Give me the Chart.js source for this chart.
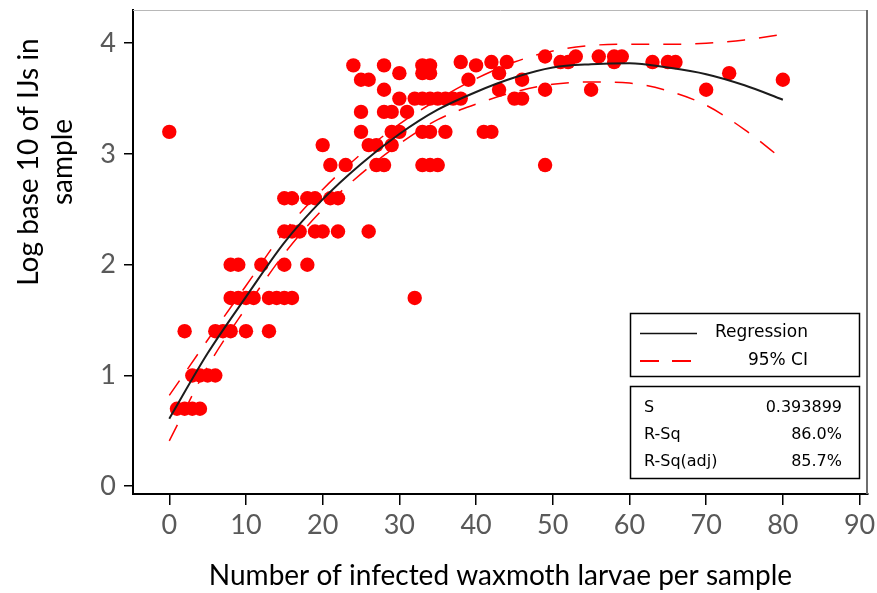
<!DOCTYPE html>
<html>
<head>
<meta charset="utf-8">
<script src="https://cdn.jsdelivr.net/npm/chart.js@4/dist/chart.umd.min.js"></script>
<style>
  html, body { margin: 0; padding: 0; background: #ffffff; }
  #wrap { width: 877px; height: 593px; }
</style>
</head>
<body>
<div id="wrap"><canvas id="c" width="877" height="593"></canvas></div>
<script>
// Observed samples: infected waxmoth larvae per sample vs log10 of IJs
const larvae = [
  0,
  1, 2, 3, 4,
  3, 4, 5, 6,
  2, 6, 7, 8, 10, 13,
  8, 9, 10, 11, 13, 14, 15, 16, 32,
  8, 9, 12, 15, 18,
  15, 16, 17, 19, 20, 22, 26,
  15, 16, 18, 19, 21, 22,
  21, 23, 27, 28, 33, 34, 35, 49,
  20, 26, 27, 29,
  25, 29, 30, 33, 34, 36, 41, 42,
  25, 28, 29, 31,
  30, 32, 33, 34, 35, 36, 37, 38, 45, 46,
  28, 43, 49, 55, 70,
  25, 26, 39, 46, 80,
  30, 33, 34, 43, 73,
  24, 28, 33, 34, 40,
  38, 42, 44, 51, 52, 58, 63, 65, 66,
  49, 53, 56, 58, 59
];
const logIJs = [
  3.2,
  0.7, 0.7, 0.7, 0.7,
  1.0, 1.0, 1.0, 1.0,
  1.4, 1.4, 1.4, 1.4, 1.4, 1.4,
  1.7, 1.7, 1.7, 1.7, 1.7, 1.7, 1.7, 1.7, 1.7,
  2.0, 2.0, 2.0, 2.0, 2.0,
  2.3, 2.3, 2.3, 2.3, 2.3, 2.3, 2.3,
  2.6, 2.6, 2.6, 2.6, 2.6, 2.6,
  2.9, 2.9, 2.9, 2.9, 2.9, 2.9, 2.9, 2.9,
  3.08, 3.08, 3.08, 3.08,
  3.2, 3.2, 3.2, 3.2, 3.2, 3.2, 3.2, 3.2,
  3.38, 3.38, 3.38, 3.38,
  3.5, 3.5, 3.5, 3.5, 3.5, 3.5, 3.5, 3.5, 3.5, 3.5,
  3.58, 3.58, 3.58, 3.58, 3.58,
  3.67, 3.67, 3.67, 3.67, 3.67,
  3.73, 3.73, 3.73, 3.73, 3.73,
  3.8, 3.8, 3.8, 3.8, 3.8,
  3.83, 3.83, 3.83, 3.83, 3.83, 3.83, 3.83, 3.83, 3.83,
  3.88, 3.88, 3.88, 3.88, 3.88
];

// Fitted regression curve and its 95% confidence band
const fitX    = [0, 5, 10, 15, 20, 25, 30, 35, 40, 45, 50, 55, 60, 65, 70, 75, 80];
const fitY    = [0.61, 1.20, 1.71, 2.20, 2.59, 2.91, 3.18, 3.40, 3.56, 3.69, 3.78, 3.81, 3.82, 3.78, 3.72, 3.62, 3.49];
const ciUpper = [0.82, 1.32, 1.81, 2.30, 2.68, 3.00, 3.27, 3.49, 3.68, 3.83, 3.93, 3.98, 3.99, 3.99, 4.00, 4.03, 4.08];
const ciLower = [0.41, 1.08, 1.61, 2.10, 2.50, 2.82, 3.09, 3.31, 3.45, 3.56, 3.63, 3.65, 3.64, 3.57, 3.44, 3.22, 2.95];

// Axis ticks
const xTicks = [0, 10, 20, 30, 40, 50, 60, 70, 80, 90];
const yTicks = [0, 1, 2, 3, 4];

// Text
const xTitle = 'Number of infected waxmoth larvae per sample';
const yTitleLines = ['Log base 10 of IJs in', 'sample'];
const legendLabels = ['Regression', '95% CI'];
const statLabels = ['S', 'R-Sq', 'R-Sq(adj)'];
const statValues = ['0.393899', '86.0%', '85.7%'];

const toXY = (xs, ys) => xs.map((x, i) => ({ x: x, y: ys[i] }));

// Gray top/right frame, rotated two-line y title, legend and summary boxes
const decorations = {
  id: 'decorations',
  afterDraw(chart) {
    const ctx = chart.ctx;
    const a = chart.chartArea;
    ctx.save();
    // frame top and right
    ctx.strokeStyle = '#b8b8b8';
    ctx.lineWidth = 1;
    ctx.beginPath();
    ctx.moveTo(a.left, a.top + 0.5);
    ctx.lineTo(a.right, a.top + 0.5);
    ctx.stroke();
    ctx.strokeStyle = '#6e6e6e';
    ctx.lineWidth = 2;
    ctx.beginPath();
    ctx.moveTo(a.right - 1, a.top);
    ctx.lineTo(a.right - 1, a.bottom);
    ctx.stroke();

    // y axis title
    ctx.save();
    ctx.translate(0, 162);
    ctx.rotate(-Math.PI / 2);
    ctx.fillStyle = '#000';
    ctx.font = '28px Lato';
    ctx.textAlign = 'center';
    ctx.textBaseline = 'middle';
    ctx.fillText(yTitleLines[0], 0, 29);
    ctx.fillText(yTitleLines[1], 0, 63);
    ctx.restore();

    // legend box
    ctx.strokeStyle = '#000';
    ctx.lineWidth = 1.5;
    ctx.strokeRect(630.5, 313.5, 229, 63);
    ctx.strokeRect(630.5, 386.5, 229, 92);

    ctx.lineWidth = 1.5;
    ctx.strokeStyle = '#111';
    ctx.beginPath();
    ctx.moveTo(640, 333.5);
    ctx.lineTo(697, 333.5);
    ctx.stroke();
    ctx.strokeStyle = '#ff0000';
    ctx.lineWidth = 2;
    ctx.beginPath();
    ctx.moveTo(640, 361);
    ctx.lineTo(659, 361);
    ctx.moveTo(672, 361);
    ctx.lineTo(691, 361);
    ctx.stroke();

    ctx.fillStyle = '#000';
    ctx.font = '17px "DejaVu Sans"';
    ctx.textBaseline = 'middle';
    ctx.textAlign = 'right';
    ctx.fillText(legendLabels[0], 808, 333);
    ctx.fillText(legendLabels[1], 808, 361);

    ctx.font = '16px "DejaVu Sans"';
    const rows = [408, 435, 462];
    statLabels.forEach((t, i) => {
      ctx.textAlign = 'left';
      ctx.fillText(t, 644, rows[i]);
      ctx.textAlign = 'right';
      ctx.fillText(statValues[i], 842, rows[i]);
    });
    ctx.restore();
  }
};

// Keep tick labels from shrinking the plotting area
const noEdgePadding = s => {
  s.paddingTop = 0; s.paddingBottom = 0; s.paddingLeft = 0; s.paddingRight = 0;
};

new Chart(document.getElementById('c'), {
  type: 'scatter',
  data: {
    datasets: [
      {
        label: legendLabels[0],
        type: 'line',
        data: toXY(fitX, fitY),
        borderColor: '#1c1c1c',
        borderWidth: 2,
        pointRadius: 0,
        fill: false,
        cubicInterpolationMode: 'monotone',
        order: 1
      },
      {
        label: legendLabels[1],
        type: 'line',
        data: toXY(fitX, ciUpper),
        borderColor: '#ff0000',
        borderWidth: 1.5,
        borderDash: [18, 14],
        pointRadius: 0,
        fill: false,
        cubicInterpolationMode: 'monotone',
        order: 2
      },
      {
        label: legendLabels[1],
        type: 'line',
        data: toXY(fitX, ciLower),
        borderColor: '#ff0000',
        borderWidth: 1.5,
        borderDash: [18, 14],
        pointRadius: 0,
        fill: false,
        cubicInterpolationMode: 'monotone',
        order: 2
      },
      {
        label: 'Samples',
        data: toXY(larvae, logIJs),
        backgroundColor: '#ff0000',
        borderWidth: 0,
        pointRadius: 7.2,
        pointHoverRadius: 7.2,
        order: 3
      }
    ]
  },
  options: {
    responsive: false,
    animation: false,
    devicePixelRatio: 1,
    events: [],
    layout: { padding: { top: 10, right: 9, left: 0, bottom: 0 } },
    plugins: { legend: { display: false }, tooltip: { enabled: false } },
    scales: {
      x: {
        type: 'linear',
        min: -4.73,
        max: 91.1,
        afterBuildTicks: s => { s.ticks = xTicks.map(v => ({ value: v })); },
        afterFit: s => { s.height = 99; noEdgePadding(s); },
        grid: { drawOnChartArea: false, drawTicks: true, tickLength: 11, color: '#000', lineWidth: 1.5 },
        border: { display: true, color: '#000', width: 2 },
        ticks: { color: '#595959', font: { family: 'Lato', size: 27 }, padding: 4, maxRotation: 0, autoSkip: false },
        title: { display: true, text: xTitle, color: '#000', font: { family: 'Lato', size: 28 }, padding: { top: 0, bottom: 0 } }
      },
      y: {
        type: 'linear',
        min: -0.07,
        max: 4.3,
        afterBuildTicks: s => { s.ticks = yTicks.map(v => ({ value: v })); },
        afterFit: s => { s.width = 133; noEdgePadding(s); },
        grid: { drawOnChartArea: false, drawTicks: true, tickLength: 9, color: '#000', lineWidth: 1.5 },
        border: { display: true, color: '#000', width: 2 },
        ticks: { color: '#595959', font: { family: 'Lato', size: 27 }, padding: 8, autoSkip: false }
      }
    }
  },
  plugins: [decorations]
});
</script>
</body>
</html>
